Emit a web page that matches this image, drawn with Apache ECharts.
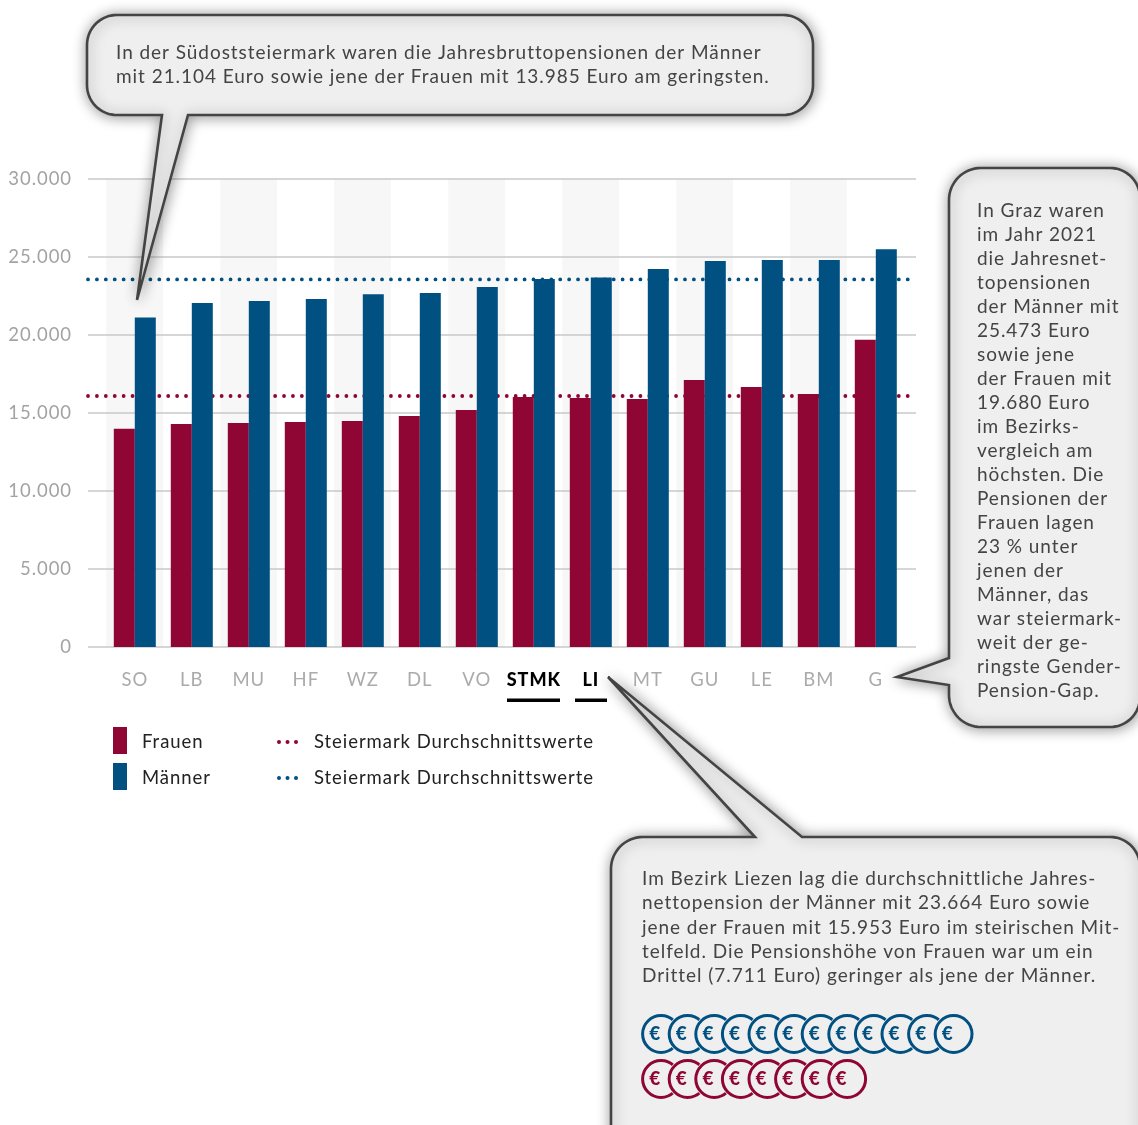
<!DOCTYPE html>
<html><head><meta charset="utf-8">
<style>html,body{margin:0;padding:0;background:#fff}#c{width:1138px;height:1125px}</style>
<script src="https://cdn.jsdelivr.net/npm/echarts@6/dist/echarts.min.js"></script>
</head><body><div id="c"></div>
<script>
const categories=['SO','LB','MU','HF','WZ','DL','VO','STMK','LI','MT','GU','LE','BM','G'];
const frauen=[13985,14280,14350,14410,14475,14800,15180,16010,15953,15880,17100,16650,16200,19680];
const maenner=[21104,22030,22160,22290,22600,22670,23060,23570,23664,24210,24720,24790,24790,25473];
const avgFrauen=16076;
const avgMaenner=23540;
const yTicks=[0,5000,10000,15000,20000,25000,30000];
const yTickLabels=['0','5.000','10.000','15.000','20.000','25.000','30.000'];
const callout1=['In der Südoststeiermark waren die Jahresbruttopensionen der Männer','mit 21.104 Euro sowie jene der Frauen mit 13.985 Euro am geringsten.'];
const callout2=['In Graz waren','im Jahr 2021','die Jahresnet-','topensionen','der Männer mit','25.473 Euro','sowie jene','der Frauen mit','19.680 Euro','im Bezirks-','vergleich am','höchsten. Die','Pensionen der','Frauen lagen','23 % unter','jenen der','Männer, das','war steiermark-','weit der ge-','ringste Gender-','Pension-Gap.'];
const callout3=['Im Bezirk Liezen lag die durchschnittliche Jahres-','nettopension der Männer mit 23.664 Euro sowie','jene der Frauen mit 15.953 Euro im steirischen Mit-','telfeld. Die Pensionshöhe von Frauen war um ein','Drittel (7.711 Euro) geringer als jene der Männer.'];
const coinsMaenner=12, coinsFrauen=8;
const RED='#8f0533', BLUE='#005082', FONT='Lato, sans-serif', TXT='#444444';

// the reference type is tracked out; canvas text has no other way to get this
const origGetContext=HTMLCanvasElement.prototype.getContext;
HTMLCanvasElement.prototype.getContext=function(){const c=origGetContext.apply(this,arguments);if(c&&'letterSpacing' in c)c.letterSpacing='0.95px';return c;};

const g=[];
function outline(pts){const out=[];const n=pts.length;
 pts.forEach((p,i)=>{const r=p[2]||0;if(!r){out.push([p[0],p[1]]);return;}
  const a=pts[(i+n-1)%n],b=pts[(i+1)%n];
  const ua=Math.hypot(a[0]-p[0],a[1]-p[1]),ub=Math.hypot(b[0]-p[0],b[1]-p[1]);
  const s=[p[0]+(a[0]-p[0])/ua*r,p[1]+(a[1]-p[1])/ua*r],e=[p[0]+(b[0]-p[0])/ub*r,p[1]+(b[1]-p[1])/ub*r];
  for(let k=0;k<=16;k++){const t=k/16,u=1-t;
   const c=0.5523,c1=[s[0]+(p[0]-s[0])*c,s[1]+(p[1]-s[1])*c],c2=[e[0]+(p[0]-e[0])*c,e[1]+(p[1]-e[1])*c];
   out.push([u*u*u*s[0]+3*u*u*t*c1[0]+3*u*t*t*c2[0]+t*t*t*e[0],u*u*u*s[1]+3*u*u*t*c1[1]+3*u*t*t*c2[1]+t*t*t*e[1]]);}
 });return out;}
function bubble(pts){g.push({type:'polygon',z:100,shape:{points:outline(pts)},style:{fill:'#efefef',stroke:'#444',lineWidth:2.6,lineJoin:'miter',shadowBlur:14,shadowColor:'rgba(0,0,0,0.4)',shadowOffsetX:1,shadowOffsetY:1}});}
bubble([[87,15,30],[813,15,30],[813,115,30],[188,115],[137,300],[162,115],[87,115,30]]);
bubble([[949,168,32],[1140,168,30],[1140,727,30],[949,727,32],[949,685],[897,677],[949,658]]);
bubble([[611,837,32],[755,837],[608,677],[802,837],[1140,837,30],[1140,1160],[611,1160]]);
function lines(arr,x,ys,size){arr.forEach((t,i)=>g.push({type:'text',z:101,style:{text:t,x:x,y:ys(i),fill:TXT,font:size+'px '+FONT,textVerticalAlign:'middle'}}));}
lines(callout1,116,i=>53+24*i,19);
lines(callout2,977,i=>211+24*i,19);
lines(callout3,642,i=>879+24.2*i,19);
function coins(n,cy,col){for(let i=0;i<n;i++){const cx=661+26.6*i;
 g.push({type:'circle',z:101,shape:{cx,cy,r:20.6},style:{fill:'#efefef'}});
 g.push({type:'circle',z:101,shape:{cx,cy,r:18.4},style:{fill:'#efefef',stroke:col,lineWidth:3}});
 g.push({type:'text',z:101,style:{text:'€',x:cx-5.8,y:cy,fill:col,font:'900 19px '+FONT,textAlign:'center',textVerticalAlign:'middle'}});
}}
coins(coinsMaenner,1034,BLUE);
coins(coinsFrauen,1079,RED);
[[507,53],[575,32]].forEach(u=>g.push({type:'rect',z:5,shape:{x:u[0],y:698.5,width:u[1],height:3.5},style:{fill:'#000'}}));
[[727,RED,'Frauen'],[763,BLUE,'Männer']].forEach(r=>{
 g.push({type:'rect',z:5,shape:{x:113,y:r[0],width:14,height:27},style:{fill:r[1]}});
 g.push({type:'text',z:5,style:{text:r[2],x:142,y:r[0]+15.5,fill:'#222',font:'18.5px '+FONT,textVerticalAlign:'middle'}});
 [279,287.5,296].forEach(x=>g.push({type:'circle',z:5,shape:{cx:x,cy:r[0]+15,r:2},style:{fill:r[1]}}));
 g.push({type:'text',z:5,style:{text:'Steiermark Durchschnittswerte',x:314,y:r[0]+15.5,fill:'#222',font:'18.5px '+FONT,textVerticalAlign:'middle'}});
});
const dot=col=>({color:col,width:3.8,type:[0.01,8.9],cap:'round'});
const chart=echarts.init(document.getElementById('c'),null,{renderer:'canvas'});
chart.setOption({
 animation:false,backgroundColor:'#fff',
 grid:[{left:88,width:828,top:178.6,height:468.4},{left:106.3,width:798,top:178.6,height:468.4}],
 xAxis:[
  {gridIndex:1,type:'category',data:categories,z:0,axisTick:{show:false},axisLine:{show:false},
   splitArea:{show:true,areaStyle:{color:['#f7f7f7','#ffffff']}},splitLine:{show:false},
   axisLabel:{interval:0,margin:23,fontFamily:FONT,fontSize:18.5,color:'#ababab',lineHeight:20,
    formatter:v=>(v==='STMK'||v==='LI')?'{b|'+v+'}':v,
    rich:{b:{fontFamily:FONT,fontWeight:900,fontSize:18,color:'#000'}}}},
  {gridIndex:0,type:'value',min:0,max:1,show:false,z:1}
 ],
 yAxis:[
  {gridIndex:0,type:'value',min:0,max:30000,interval:5000,z:1,axisLine:{show:false},axisTick:{show:false},
   axisLabel:{margin:16,fontFamily:FONT,fontSize:18.5,color:'#a3a3a3',formatter:v=>yTickLabels[yTicks.indexOf(v)]},
   splitLine:{lineStyle:{color:'#c8c8c8',width:1.5}}},
  {gridIndex:1,type:'value',min:0,max:30000,interval:5000,show:false,splitLine:{show:false}}
 ],
 series:[
  {name:'Steiermark Durchschnittswerte',type:'line',xAxisIndex:1,yAxisIndex:0,z:2,symbol:'none',lineStyle:dot(RED),data:[[0,avgFrauen],[1,avgFrauen]]},
  {name:'Steiermark Durchschnittswerte',type:'line',xAxisIndex:1,yAxisIndex:0,z:2,symbol:'none',lineStyle:dot(BLUE),data:[[0,avgMaenner],[1,avgMaenner]]},
  {name:'Frauen',type:'bar',xAxisIndex:0,yAxisIndex:1,z:3,barWidth:21,barGap:'0%',itemStyle:{color:RED},data:frauen},
  {name:'Männer',type:'bar',xAxisIndex:0,yAxisIndex:1,z:3,barWidth:21,barGap:'0%',itemStyle:{color:BLUE},data:maenner}
 ],
 graphic:{elements:g}
});
</script></body></html>
